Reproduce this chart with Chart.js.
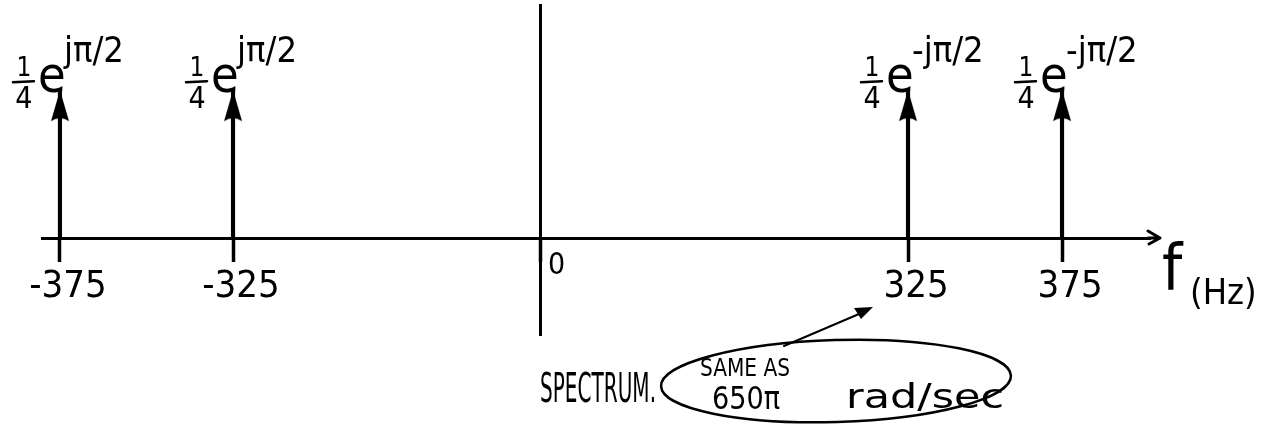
<!DOCTYPE html>
<html lang="en">
<head>
    <meta charset="UTF-8">
    <title>Spectrum</title>
    <script src="https://cdn.jsdelivr.net/npm/chart.js"></script>
    <style>
        html, body { margin: 0; padding: 0; background: #fff; }
        #wrap { width: 1274px; height: 432px; }
    </style>
</head>
<body>
<div id="wrap"><canvas id="spectrum"></canvas></div>

<script>
    // Spectrum lines (Hz) and their complex amplitudes
    const freqs = [-375, -325, 325, 375];
    const mags = [0.25, 0.25, 0.25, 0.25];
    const magLabels = ['1/4', '1/4', '1/4', '1/4'];
    const phaseLabels = ['jπ/2', 'jπ/2', '-jπ/2', '-jπ/2'];
    const tickValues = [-375, -325, 0, 325, 375];

    const FONT = "'Liberation Sans Narrow', 'DejaVu Sans Condensed', 'Liberation Sans', sans-serif";

    // Hand sketch: the frequency axis is not drawn to scale, so use a piecewise linear scale
    class SketchScale extends Chart.LinearScale {
        warp(v) {
            const vs = this.options.knotValues, fs = this.options.knotFracs;
            if (v <= vs[0]) return fs[0];
            for (let i = 1; i < vs.length; i++) {
                if (v <= vs[i]) {
                    const t = (v - vs[i - 1]) / (vs[i] - vs[i - 1]);
                    return fs[i - 1] + t * (fs[i] - fs[i - 1]);
                }
            }
            return fs[fs.length - 1];
        }
        getPixelForValue(value) {
            if (value === null || value === undefined) return NaN;
            return this.getPixelForDecimal(this.warp(value));
        }
        getValueForPixel(pixel) {
            const d = this.getDecimalForPixel(pixel);
            const vs = this.options.knotValues, fs = this.options.knotFracs;
            for (let i = 1; i < fs.length; i++) {
                if (d <= fs[i]) {
                    const t = (d - fs[i - 1]) / (fs[i] - fs[i - 1]);
                    return vs[i - 1] + t * (vs[i] - vs[i - 1]);
                }
            }
            return vs[vs.length - 1];
        }
    }
    SketchScale.id = 'sketch';
    SketchScale.defaults = Chart.LinearScale.defaults;
    Chart.register(SketchScale);

    // Arrow head used as the point style on top of each line
    function arrowHead() {
        const c = document.createElement('canvas');
        c.width = 20; c.height = 64;
        const g = c.getContext('2d');
        g.fillStyle = '#000';
        g.beginPath();
        g.moveTo(10, 32);
        g.lineTo(19, 63);
        g.quadraticCurveTo(10, 57, 1, 63);
        g.closePath();
        g.fill();
        return c;
    }

    function ink(ctx, size) {
        ctx.fillStyle = '#000';
        ctx.strokeStyle = '#000';
        ctx.font = size + 'px ' + FONT;
        ctx.textBaseline = 'alphabetic';
        ctx.textAlign = 'left';
    }

    // handwriting is narrow and tall: squeeze text to the width it takes in the sketch
    function fitText(ctx, text, x, y, size, width) {
        ink(ctx, size);
        const w = ctx.measureText(text).width;
        ctx.save();
        ctx.translate(x, y);
        ctx.scale(width / w, 1);
        ctx.fillText(text, 0, 0);
        ctx.restore();
    }

    const sketchNotes = {
        id: 'sketchNotes',
        afterDraw(chart) {
            const ctx = chart.ctx;
            const xs = chart.scales.x, ys = chart.scales.y;
            const area = chart.chartArea;
            const y0 = ys.getPixelForValue(0);
            ctx.save();
            ctx.lineCap = 'round';
            ctx.lineJoin = 'round';

            // arrow at the end of the frequency axis
            ctx.lineWidth = 3;
            ctx.beginPath();
            ctx.moveTo(area.right - 2, y0);
            ctx.lineTo(area.right + 10, y0);
            ctx.moveTo(area.right - 2, y0 - 7);
            ctx.lineTo(area.right + 10, y0);
            ctx.lineTo(area.right - 1, y0 + 6);
            ctx.stroke();

            // origin label
            ink(ctx, 30);
            ctx.fillText('0', xs.getPixelForValue(0) + 8, y0 + 36);

            // f (Hz)
            ink(ctx, 64);
            ctx.fillText('f', area.right + 12, y0 + 52);
            ink(ctx, 36);
            ctx.fillText('(Hz)', area.right + 40, y0 + 66);

            // amplitude labels above each line
            freqs.forEach((f, i) => {
                const x = xs.getPixelForValue(f);
                const top = ys.getPixelForValue(mags[i]);
                const [num, den] = magLabels[i].split('/');
                ink(ctx, 26);
                ctx.textAlign = 'center';
                ctx.fillText(num, x - 36, top - 14);
                ink(ctx, 30);
                ctx.textAlign = 'center';
                ctx.fillText(den, x - 36, top + 18);
                ctx.lineWidth = 2.5;
                ctx.beginPath();
                ctx.moveTo(x - 47, top - 8);
                ctx.lineTo(x - 26, top - 9);
                ctx.stroke();
                ink(ctx, 50);
                ctx.fillText('e', x - 22, top + 2);
                ink(ctx, 36);
                ctx.fillText(phaseLabels[i], x + 4, top - 28);
            });

            // caption and note balloon
            fitText(ctx, 'SPECTRUM.', 540, 402, 40, 116);

            ctx.lineWidth = 2.5;
            ctx.beginPath();
            ctx.ellipse(836, 381, 175, 41, -0.03, 0, Math.PI * 2);
            ctx.stroke();
            fitText(ctx, 'SAME AS', 700, 376, 24, 90);
            fitText(ctx, '650π', 712, 409, 32, 68);
            fitText(ctx, 'rad/sec', 846, 408, 34, 158);

            ctx.lineWidth = 2;
            ctx.beginPath();
            ctx.moveTo(784, 346);
            ctx.lineTo(866, 311);
            ctx.stroke();
            ctx.beginPath();
            ctx.moveTo(873, 307);
            ctx.lineTo(854, 308);
            ctx.lineTo(861, 319);
            ctx.closePath();
            ctx.fill();
            ctx.restore();
        }
    };

    new Chart(document.getElementById('spectrum'), {
        type: 'bar',
        data: {
            datasets: [{
                type: 'bar',
                data: freqs.map((f, i) => ({x: f, y: mags[i]})),
                backgroundColor: '#000',
                barThickness: 3.5,
                order: 2
            }, {
                type: 'scatter',
                data: freqs.map((f, i) => ({x: f, y: mags[i]})),
                pointStyle: arrowHead(),
                order: 1
            }]
        },
        options: {
            responsive: true,
            maintainAspectRatio: false,
            animation: false,
            events: [],
            layout: {padding: {left: 42, right: 124, top: 5, bottom: 97}},
            plugins: {legend: {display: false}, tooltip: {enabled: false}},
            scales: {
                x: {
                    type: 'sketch',
                    min: -400,
                    max: 420,
                    offset: false,
                    knotValues: [-400, -375, -325, 0, 325, 375, 420],
                    knotFracs: [0, 0.0162, 0.1724, 0.4495, 0.7816, 0.9206, 1],
                    position: {y: 0},
                    afterBuildTicks: (scale) => { scale.ticks = tickValues.map(v => ({value: v})); },
                    afterFit: (scale) => { scale.height = 0; },
                    grid: {offset: false, drawOnChartArea: false, tickLength: 22, tickWidth: 3.5, tickColor: '#000'},
                    border: {display: true, color: '#000', width: 3},
                    ticks: {
                        autoSkip: false,
                        maxRotation: 0,
                        padding: 4,
                        labelOffset: 8,
                        color: '#000',
                        font: {family: FONT, size: 38},
                        callback: (v) => v === 0 ? '' : String(v)
                    }
                },
                y: {
                    type: 'linear',
                    min: -0.164,
                    max: 0.394,
                    position: {x: 0},
                    afterFit: (scale) => { scale.width = 0; },
                    grid: {display: false},
                    border: {display: true, color: '#000', width: 3},
                    ticks: {display: false}
                }
            }
        },
        plugins: [sketchNotes]
    });
</script>
</body>
</html>
